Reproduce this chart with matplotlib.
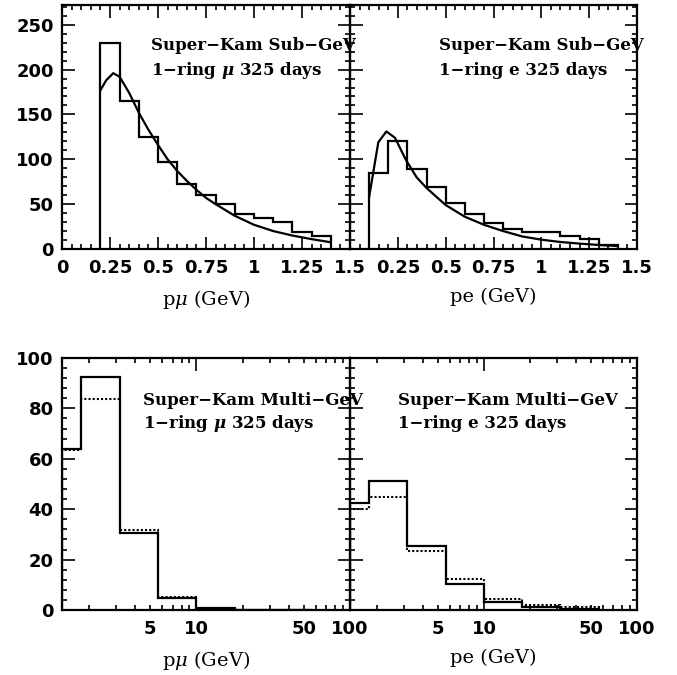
import numpy as np
import matplotlib
matplotlib.use("Agg")
import matplotlib.pyplot as plt
from matplotlib.ticker import MultipleLocator, FixedLocator, FuncFormatter

plt.rcParams['font.family'] = 'DejaVu Sans'
plt.rcParams['mathtext.fontset'] = 'dejavuserif'

# Sub-GeV 1-ring mu-like: momentum bins, data counts and prediction curve
mu_sub_edges = [0.2, 0.3, 0.4, 0.5, 0.6, 0.7, 0.8, 0.9, 1.0, 1.1, 1.2, 1.3, 1.4]
mu_sub_counts = [230, 165, 125, 97, 72, 60, 50, 39, 34, 30, 19, 14]
mu_sub_curve_p = [0.2, 0.23, 0.267, 0.3, 0.35, 0.4, 0.45, 0.5, 0.55, 0.6, 0.65,
                  0.7, 0.75, 0.8, 0.9, 1.0, 1.1, 1.2, 1.3, 1.4]
mu_sub_curve_n = [177, 188, 196, 192, 174, 152, 133, 116, 100, 87, 76,
                  66, 57, 50, 37, 27, 20, 15, 11, 7.5]

# Sub-GeV 1-ring e-like
e_sub_edges = [0.1, 0.2, 0.3, 0.4, 0.5, 0.6, 0.7, 0.8, 0.9, 1.0, 1.1, 1.2, 1.3, 1.4]
e_sub_counts = [85, 120, 89, 69, 51, 39, 29, 22, 19, 18.5, 14, 11, 4]
e_sub_curve_p = [0.1, 0.148, 0.19, 0.235, 0.293, 0.348, 0.4, 0.5, 0.6, 0.7,
                 0.8, 0.9, 1.0, 1.1, 1.2, 1.3, 1.4]
e_sub_curve_n = [58, 119, 131, 124, 99, 80, 68, 49, 36, 27,
                 20, 14, 10.4, 7.8, 6, 4.5, 3.3]

# Multi-GeV 1-ring samples: log momentum bins, data (solid) and expectation (dotted)
multi_edges = [1.33, 1.78, 3.16, 5.62, 10.0, 17.8, 31.6, 56.2]
mu_multi_data = [64, 92.6, 30.7, 4.6, 0.7, 0, 0]
mu_multi_pred = [63.5, 83.6, 31.7, 5.3, 0.5, 0, 0]
e_multi_data = [42.4, 51.3, 25.4, 10.3, 3.3, 1.3, 0.3]
e_multi_pred = [40, 44.8, 23.6, 12.2, 4.2, 1.9, 1.1]

sub_ticks = [0, 0.25, 0.5, 0.75, 1, 1.25, 1.5]
sub_ticklabels = ['0', '0.25', '0.5', '0.75', '1', '1.25', '1.5']

fig = plt.figure(figsize=(6.77, 6.75), dpi=100)

W, H = 677.0, 675.0
def panel(x0, x1, ytop, ybot):
    ax = fig.add_axes([x0 / W, 1 - ybot / H, (x1 - x0) / W, (ybot - ytop) / H])
    ax.patch.set_visible(False)
    for s in ax.spines.values():
        s.set_linewidth(1.6)
    ax.tick_params(which='both', direction='in', top=True, right=True,
                   labelsize=13, width=1.2)
    ax.tick_params(which='major', length=9)
    ax.tick_params(which='minor', length=3.5)
    ax.tick_params(axis='x', pad=7)
    ax.tick_params(axis='y', pad=6)
    return ax

ax1 = panel(62, 350, 5, 249)
ax2 = panel(350, 637, 5, 249)
ax3 = panel(62, 350, 358, 610)
ax4 = panel(350, 637, 358, 610)

text_kw = dict(family='DejaVu Serif', fontweight='bold', fontsize=12)
label_kw = dict(family='DejaVu Serif', fontweight='normal', fontsize=14, labelpad=8)
mu_bold = r'$\boldsymbol{\mu}$'

# top row: sub-GeV momentum spectra
for ax, edges, counts, cp, cn, flav in [
        (ax1, mu_sub_edges, mu_sub_counts, mu_sub_curve_p, mu_sub_curve_n, mu_bold),
        (ax2, e_sub_edges, e_sub_counts, e_sub_curve_p, e_sub_curve_n, 'e')]:
    ax.stairs(counts, edges, baseline=0, color='black', lw=1.6)
    ax.plot(cp, cn, color='black', lw=1.6)
    ax.set_xlim(0, 1.5)
    ax.set_ylim(0, 272)
    ax.xaxis.set_major_locator(FixedLocator(sub_ticks))
    ax.xaxis.set_minor_locator(MultipleLocator(0.05))
    ax.yaxis.set_major_locator(MultipleLocator(50))
    ax.yaxis.set_minor_locator(MultipleLocator(10))
    ax.text(0.31, 0.816, 'Super\u2212Kam Sub\u2212GeV', transform=ax.transAxes, **text_kw)
    ax.text(0.31, 0.713, '1\u2212ring ' + flav + ' 325 days', transform=ax.transAxes, **text_kw)

ax1.set_xticklabels(sub_ticklabels)
ax2.set_xticklabels([''] + sub_ticklabels[1:])
ax2.set_yticklabels([])
ax1.set_xlabel(r'p$\mu$ (GeV)', **label_kw)
ax2.set_xlabel('pe (GeV)', **label_kw)

# bottom row: multi-GeV momentum spectra on a log axis
def minor_label(v, pos):
    if np.isclose(v, 5):
        return '5'
    if np.isclose(v, 50):
        return '50'
    return ''

for ax, data, pred, flav, tx in [
        (ax3, mu_multi_data, mu_multi_pred, mu_bold, 0.281),
        (ax4, e_multi_data, e_multi_pred, 'e', 0.168)]:
    ax.stairs(pred, multi_edges, baseline=0, color='black', lw=1.5, linestyle=(0, (1, 1)))
    ax.stairs(data, multi_edges, baseline=0, color='black', lw=1.6)
    ax.set_xscale('log')
    ax.set_xlim(1.33, 100)
    ax.set_ylim(0, 100)
    ax.xaxis.set_major_locator(FixedLocator([10, 100]))
    ax.xaxis.set_major_formatter(FuncFormatter(lambda v, p: '%d' % round(v)))
    ax.xaxis.set_minor_locator(FixedLocator([2, 3, 4, 5, 6, 7, 8, 9,
                                             20, 30, 40, 50, 60, 70, 80, 90]))
    ax.xaxis.set_minor_formatter(FuncFormatter(minor_label))
    ax.tick_params(axis='x', which='minor', labelsize=13, pad=7)
    ax.yaxis.set_major_locator(MultipleLocator(20))
    ax.yaxis.set_minor_locator(MultipleLocator(4))
    ax.text(tx, 0.813, 'Super\u2212Kam Multi\u2212GeV', transform=ax.transAxes, **text_kw)
    ax.text(tx, 0.722, '1\u2212ring ' + flav + ' 325 days', transform=ax.transAxes, **text_kw)

ax4.set_yticklabels([])
ax3.set_xlabel(r'p$\mu$ (GeV)', **label_kw)
ax4.set_xlabel('pe (GeV)', **label_kw)

# bold tick numbers (ticks exist only after a first draw)
fig.canvas.draw()
for ax in (ax1, ax2, ax3, ax4):
    for axis in (ax.xaxis, ax.yaxis):
        for t in axis.get_major_ticks() + axis.get_minor_ticks():
            t.label1.set_fontweight('bold')

fig.savefig('out.png', dpi=100)
